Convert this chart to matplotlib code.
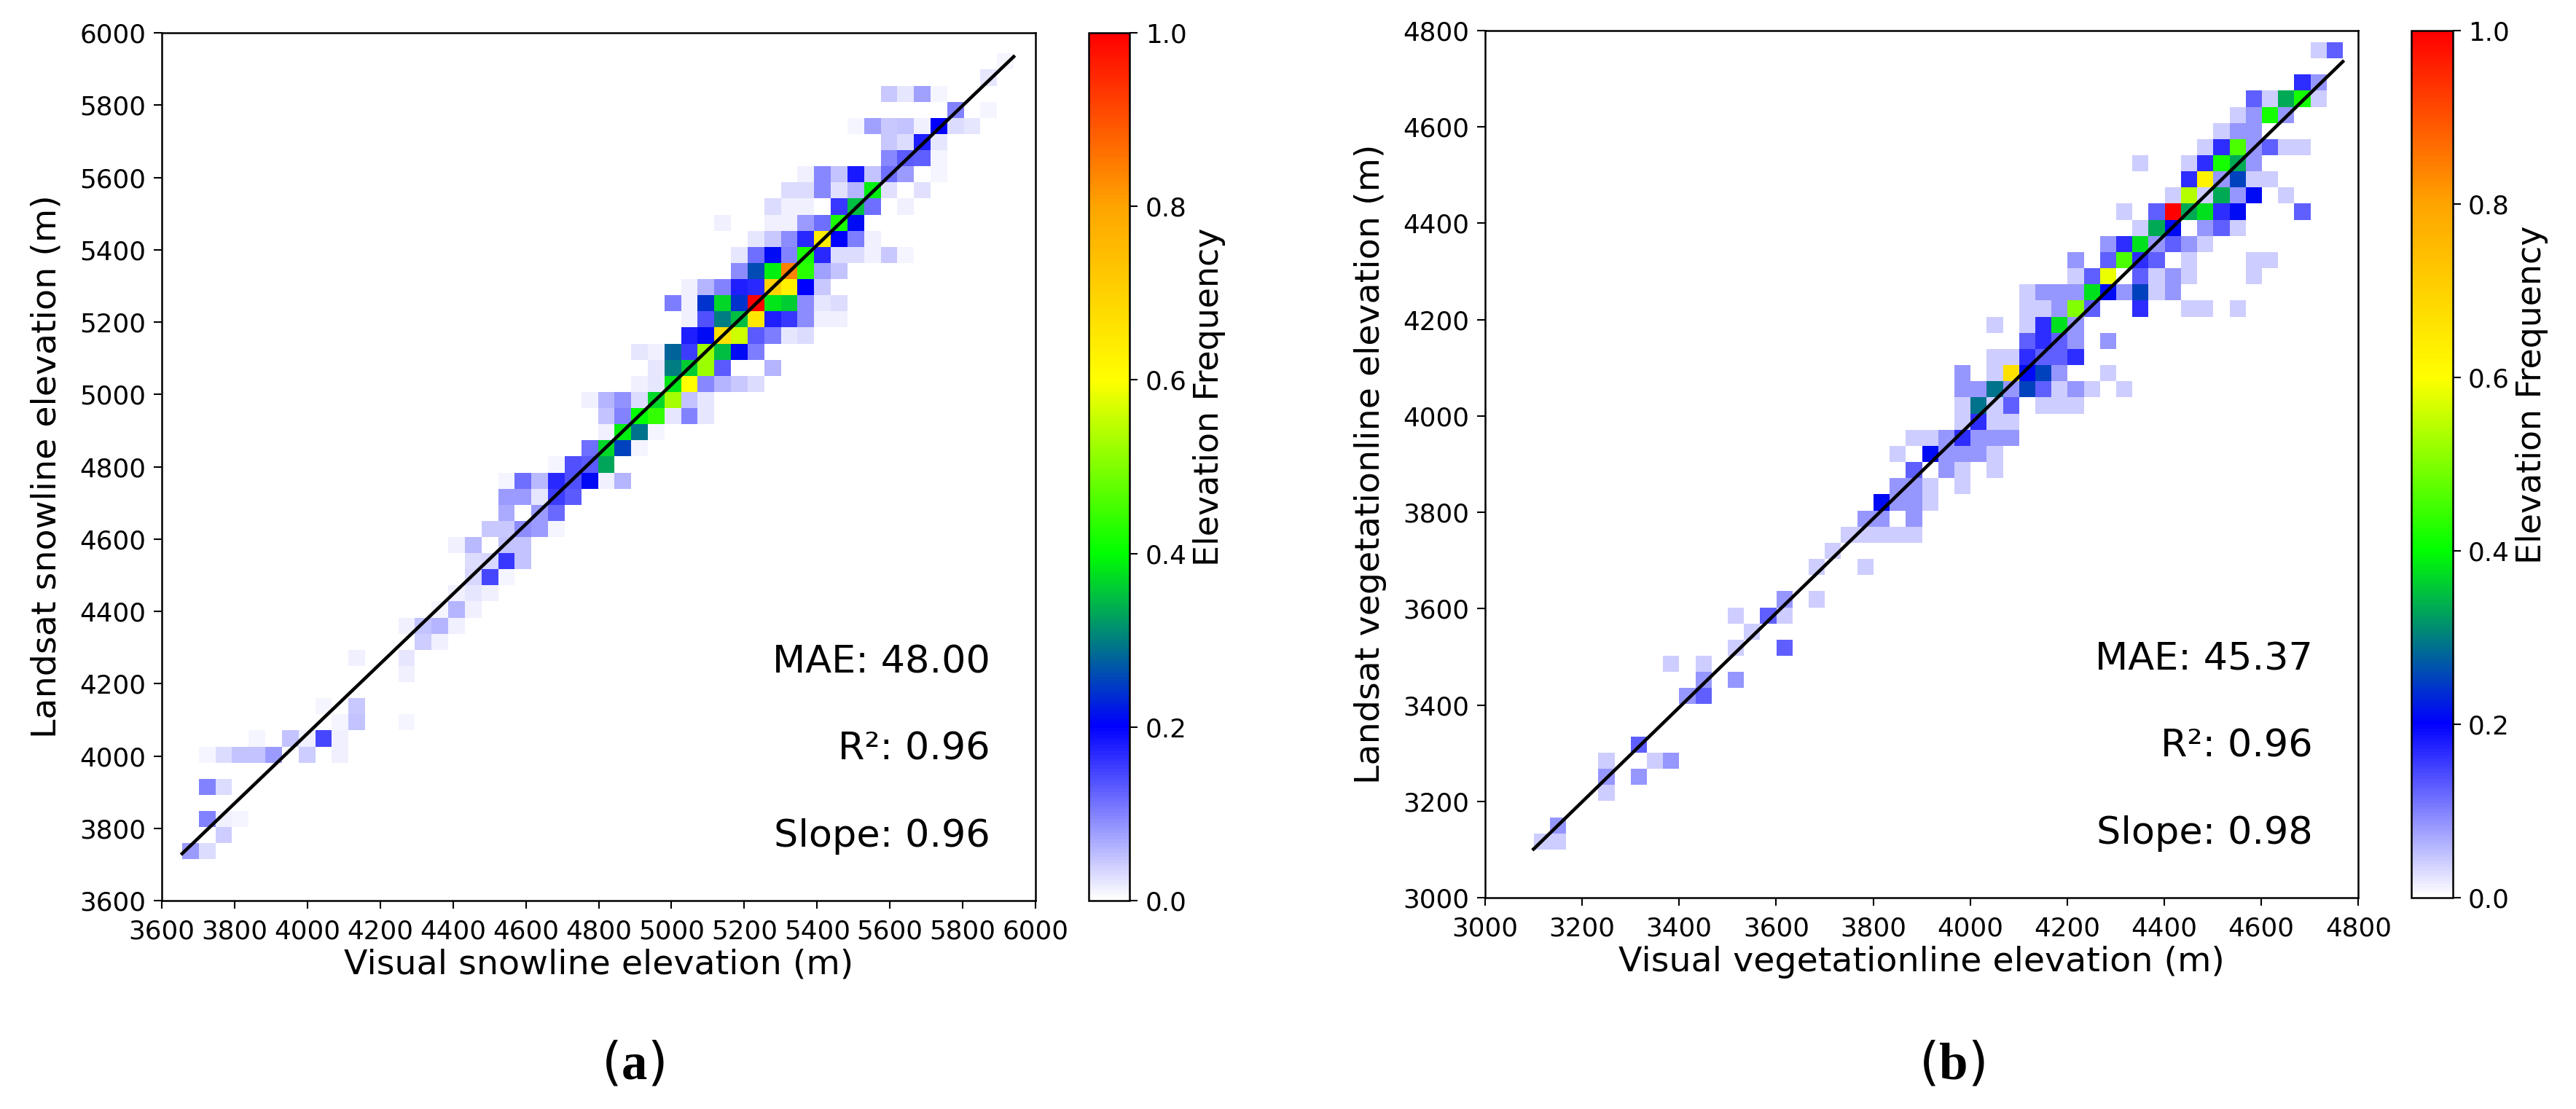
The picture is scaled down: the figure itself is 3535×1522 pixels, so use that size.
import numpy as np
import matplotlib.pyplot as plt
from matplotlib.colors import LinearSegmentedColormap

# ---- (a) snowline: 50x50 bins, normalised frequency per occupied cell ----
snow_x_range = (3656, 5940)
snow_y_range = (3714, 5943)
snow_rows = [0, 1, 2, 4, 6, 7, 8, 9, 11, 12, 13, 14, 15, 16, 17, 18, 19, 20, 21, 22,
             23, 24, 25, 26, 27, 28, 29, 30, 31, 32, 33, 34, 35, 36, 37, 38, 39, 40,
             41, 42, 43, 44, 45, 46, 47, 48, 49]
snow_cols = [
    [0, 1], [2], [1, 2, 3], [1, 2], [1, 2, 3, 4, 5, 7, 9], [4, 6, 7, 8, 9],
    [9, 10, 13], [8, 10], [13], [10, 13], [14, 15], [13, 14, 15, 16], [15, 16, 17],
    [16, 17, 18], [17, 18, 19], [17, 18, 19, 20], [16, 17, 19, 20],
    [18, 19, 20, 21, 22], [19, 21, 22], [19, 20, 21, 22, 23],
    [19, 20, 21, 22, 23, 24, 25, 26], [22, 23, 24, 25], [24, 25, 26, 27],
    [25, 26, 27, 28], [25, 26, 27, 28, 29, 30, 31], [24, 25, 26, 27, 28, 29, 30, 31],
    [27, 28, 29, 30, 31, 32, 33, 34], [28, 29, 30, 31, 32, 35],
    [27, 28, 29, 30, 31, 32, 33, 34], [30, 31, 32, 33, 34, 35, 36, 37],
    [30, 31, 32, 33, 34, 35, 36, 37, 38, 39], [29, 30, 31, 32, 33, 34, 35, 36, 37, 38, 39],
    [30, 31, 32, 33, 34, 35, 36, 37, 38], [33, 34, 35, 36, 37, 38, 39],
    [33, 34, 35, 36, 37, 38, 39, 40, 41, 42, 43], [34, 35, 36, 37, 38, 39, 40, 41],
    [32, 35, 36, 37, 38, 39, 40], [35, 36, 37, 39, 40, 41, 43],
    [36, 37, 38, 39, 40, 41, 42, 44], [37, 38, 39, 40, 41, 42, 43, 45],
    [42, 43, 44, 45], [42, 43, 44, 45], [40, 41, 42, 43, 44, 45, 46, 47],
    [46, 48], [42, 43, 44, 45], [48], [49]]
snow_freq = [
    [.08, .03], [.04], [.10, .012, .008], [.10, .03],
    [.008, .03, .05, .05, .08, .04, .015], [.008, .05, .012, .145, .015],
    [.008, .05, .008], [.008, .045], [.015], [.015, .023], [.04, .015],
    [.015, .05, .06, .015], [.008, .06, .015], [.015, .023, .015], [.035, .145, .008],
    [.03, .035, .157, .05], [.015, .055, .05, .05], [.043, .043, .09, .08, .008],
    [.067, .08, .12], [.08, .08, .023, .153, .13],
    [.008, .114, .055, .17, .137, .21, .015, .06], [.008, .137, .13, .33],
    [.114, .37, .25, .008], [.015, .39, .29, .008], [.05, .1, .4, .44, .02, .1, .02],
    [.012, .06, .086, .03, .37, .53, .05, .02],
    [.012, .02, .38, .6, .094, .06, .043, .03], [.023, .3, .36, .52, .13, .06],
    [.023, .012, .28, .153, .52, .35, .21, .105],
    [.176, .21, .67, .56, .13, .105, .02, .03],
    [.012, .137, .3, .35, .65, .176, .16, .09, .012, .012],
    [.105, .012, .24, .37, .24, 1.0, .38, .36, .09, .02, .03],
    [.012, .06, .1, .176, .168, .7, .63, .2, .043],
    [.09, .26, .39, .84, .43, .075, .05],
    [.023, .114, .21, .1, .42, .17, .03, .03, .012, .043, .008],
    [.023, .043, .09, .168, .64, .2, .105, .012],
    [.015, .015, .015, .08, .114, .42, .21], [.03, .015, .015, .157, .35, .114, .015],
    [.03, .03, .094, .027, .06, .39, .027, .027],
    [.015, .094, .05, .18, .05, .114, .08, .008], [.094, .13, .125, .008],
    [.043, .03, .176, .023], [.008, .075, .043, .05, .015, .2, .03, .023],
    [.1, .008], [.043, .02, .075, .008], [.023], [.008]]
snow_fit = (0.965, 202)   # slope, intercept
snow_stats = ['MAE: 48.00', 'R²: 0.96', 'Slope: 0.96']

# ---- (b) vegetation line: 50x50 bins, raw counts per occupied cell ----
veg_x_range = (3100, 4768)
veg_y_range = (3100, 4776)
veg_rows = [0, 1, 3, 4, 5, 6, 9, 10, 11, 12, 13, 14, 15, 17, 18, 19, 20, 21, 22, 23,
            24, 25, 26, 27, 28, 29, 30, 31, 32, 33, 34, 35, 36, 37, 38, 39, 40, 41,
            42, 43, 44, 45, 46, 47, 49]
veg_cols = [
    [0, 1], [1], [4], [4, 6], [4, 7, 8], [6], [9, 10], [10, 12], [8, 10], [12, 15],
    [13], [12, 14, 15], [15, 17], [17, 20], [18], [19, 20, 21, 22, 23], [20, 21, 23],
    [21, 22, 23, 24], [22, 23, 24, 26], [23, 25, 26, 28], [22, 24, 25, 26, 27, 28],
    [23, 24, 25, 26, 27, 28, 29], [26, 27, 28, 29], [26, 27, 28, 29, 31, 32, 33],
    [26, 27, 28, 29, 30, 31, 32, 33, 34, 36], [26, 28, 29, 30, 31, 32, 35],
    [28, 29, 30, 31, 32, 33], [30, 31, 32, 33, 35], [28, 30, 31, 32, 33],
    [30, 31, 32, 33, 34, 37, 40, 41, 43], [30, 31, 32, 33, 34, 35, 36, 37, 38, 39],
    [33, 34, 35, 37, 38, 39, 40, 44], [33, 35, 36, 37, 38, 40, 44, 45],
    [35, 36, 37, 38, 39, 40, 41], [37, 38, 39, 41, 42, 43],
    [36, 38, 39, 40, 41, 42, 43, 47], [39, 40, 41, 42, 43, 44, 46],
    [40, 41, 42, 43, 44, 45], [37, 40, 41, 42, 43, 44],
    [41, 42, 43, 44, 45, 46, 47], [42, 43, 44], [43, 44, 45, 46],
    [44, 45, 46, 47, 48], [47, 48], [48, 49]]
veg_count = [
    [1, 1], [2], [1], [2, 2], [1, 1, 2], [3], [2, 3], [2, 2], [1, 1], [1, 3],
    [1], [1, 3, 1], [2, 1], [1, 1], [1], [1, 1, 1, 1, 1], [2, 2, 2],
    [5, 2, 2, 1], [2, 2, 1, 1], [3, 2, 1, 1], [1, 5, 2, 2, 2, 1],
    [1, 1, 2, 4, 2, 2, 2], [1, 4, 1, 1], [1, 7, 1, 3, 1, 1, 1],
    [2, 2, 7, 2, 6, 3, 1, 2, 1, 1], [2, 1, 16, 5, 6, 2, 1],
    [1, 1, 4, 3, 3, 4], [3, 4, 3, 2, 2], [1, 1, 4, 9, 2],
    [1, 1, 2, 12, 3, 4, 1, 1, 1], [1, 2, 2, 2, 9, 5, 2, 6, 1, 2],
    [1, 3, 14, 3, 1, 2, 1, 1], [2, 3, 11, 4, 3, 1, 1, 1],
    [2, 4, 9, 2, 3, 2, 1], [1, 8, 5, 2, 3, 1],
    [1, 3, 24, 8, 9, 4, 5, 3], [1, 13, 1, 8, 2, 5, 1],
    [4, 15, 2, 6, 1, 1], [1, 1, 4, 10, 8, 2],
    [1, 4, 11, 2, 3, 1, 1], [1, 2, 2], [1, 2, 10, 2],
    [3, 1, 8, 10, 1], [4, 2], [1, 3]]
veg_fit = (0.98, 63)
veg_stats = ['MAE: 45.37', 'R²: 0.96', 'Slope: 0.98']

plt.rcParams['mathtext.fontset'] = 'custom'
plt.rcParams['mathtext.rm'] = 'Liberation Serif'
plt.rcParams['mathtext.bf'] = 'Liberation Serif:bold'

cmap = LinearSegmentedColormap.from_list(
    'elev', ['white', 'blue', 'lime', 'yellow', 'orange', 'red'])


def flatten(rows, cols, vals):
    r, c, v = [], [], []
    for row, cc, vv in zip(rows, cols, vals):
        r += [row] * len(cc)
        c += list(cc)
        v += list(vv)
    return np.array(c), np.array(r), np.array(v, dtype=float)


def draw_panel(ax, cax, col, row, freq, xr, yr, fit, lim, stats, xlabel, ylabel):
    xe = np.linspace(xr[0], xr[1], 51)
    ye = np.linspace(yr[0], yr[1], 51)
    xc = (xe[:-1] + xe[1:]) / 2
    yc = (ye[:-1] + ye[1:]) / 2
    h = ax.hist2d(xc[col], yc[row], bins=[xe, ye], weights=freq,
                  cmap=cmap, vmin=0, vmax=1)

    xs = np.array(xr)
    ax.plot(xs, fit[0] * xs + fit[1], color='black', lw=1.1)

    ticks = np.arange(lim[0], lim[1] + 1, 200)
    ax.set_xlim(lim)
    ax.set_ylim(lim)
    ax.set_xticks(ticks)
    ax.set_yticks(ticks)
    ax.tick_params(labelsize=8.6, length=2.6, width=0.5)
    ax.tick_params(axis='x', pad=3.5)
    ax.tick_params(axis='y', pad=2.5)
    for s in ax.spines.values():
        s.set_linewidth(0.6)
    ax.set_xlabel(xlabel, fontsize=11.4, labelpad=1.5)
    ax.set_ylabel(ylabel, fontsize=11.4, labelpad=5.5)

    for k, txt in enumerate(stats):
        ax.text(0.948, 0.274 - 0.1 * k, txt, transform=ax.transAxes,
                ha='right', va='center', fontsize=12.6)

    cb = plt.colorbar(h[3], cax=cax)
    cb.set_ticks([0, 0.2, 0.4, 0.6, 0.8, 1.0])
    cb.ax.tick_params(labelsize=8.6, length=2.6, width=0.5, pad=2.5)
    cb.outline.set_linewidth(0.6)
    cb.set_label('Elevation Frequency', fontsize=11, labelpad=2)
    # label sits above the colorbar centre in the reference
    cb.ax.yaxis.label.set_y(0.58)


fig = plt.figure(figsize=(3535 / 300, 1522 / 300), dpi=300)
ax_a = fig.add_axes([0.0628, 0.1879, 0.3392, 0.7825])
cax_a = fig.add_axes([0.4226, 0.1879, 0.0160, 0.7825])
ax_b = fig.add_axes([0.5765, 0.1905, 0.3390, 0.7819])
cax_b = fig.add_axes([0.9361, 0.1905, 0.0160, 0.7819])

sc, sr, sf = flatten(snow_rows, snow_cols, snow_freq)
draw_panel(ax_a, cax_a, sc, sr, sf, snow_x_range, snow_y_range, snow_fit,
           (3600, 6000), snow_stats,
           'Visual snowline elevation (m)', 'Landsat snowline elevation (m)')

vc, vr, vn = flatten(veg_rows, veg_cols, veg_count)
draw_panel(ax_b, cax_b, vc, vr, vn / vn.max(), veg_x_range, veg_y_range, veg_fit,
           (3000, 4800), veg_stats,
           'Visual vegetationline elevation (m)', 'Landsat vegetationline elevation (m)')

fig.text(0.2455, 0.04, r'($\mathbf{a}$)', ha='center', va='center', fontsize=17)
fig.text(0.7576, 0.04, r'($\mathbf{b}$)', ha='center', va='center', fontsize=17)

fig.savefig('out.png', dpi=300)
